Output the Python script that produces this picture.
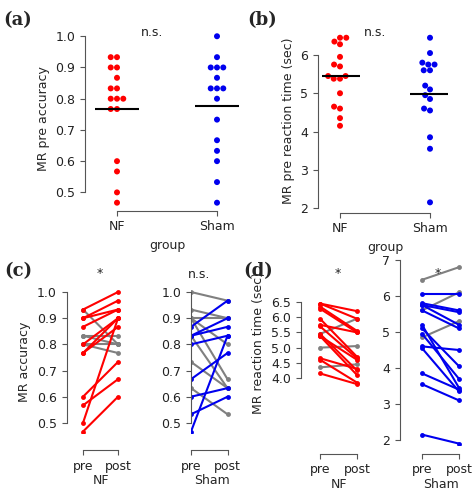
import numpy as np, pandas as pd, seaborn as sns, matplotlib
matplotlib.use("Agg")
import matplotlib.pyplot as plt

nf_acc_pre = [0.933,0.933,0.9,0.9,0.867,0.833,0.833,0.8,0.8,0.8,0.767,0.767,0.6,0.567,0.5,0.467]
nf_acc_post = [0.8,1.0,0.967,0.933,0.933,0.833,0.8,0.767,0.9,0.8,0.9,0.867,0.733,0.667,0.9,0.6]
sh_acc_pre = [1.0,0.933,0.9,0.9,0.9,0.867,0.833,0.833,0.833,0.8,0.733,0.667,0.633,0.6,0.533,0.467]
sh_acc_post = [0.967,0.9,0.9,0.8,0.667,0.967,0.9,0.867,0.633,0.833,0.633,0.767,0.533,0.633,0.6,0.833]
nf_rt_pre = [6.45,6.45,6.35,6.28,5.95,5.75,5.7,5.45,5.45,5.38,5.38,5.0,4.65,4.6,4.35,4.15]
nf_rt_post = [6.2,5.95,5.55,5.5,4.7,5.5,4.65,4.25,5.95,4.6,4.1,5.05,4.3,3.85,4.45,3.8]
sh_rt_pre = [6.45,6.05,5.8,5.75,5.75,5.6,5.6,5.2,5.1,4.95,4.85,4.6,4.55,3.85,3.55,2.15]
sh_rt_post = [6.8,6.05,5.6,5.55,5.2,6.1,5.1,3.45,4.05,3.7,5.3,4.5,3.35,3.4,3.1,1.9]
groups = ["NF", "Sham"]
times = ["pre", "post"]

sns.set_style("ticks")
plt.rcParams['font.family'] = ['DejaVu Sans']
plt.rcParams['font.size'] = 9
plt.rcParams['axes.labelsize'] = 9
plt.rcParams['xtick.labelsize'] = 9
plt.rcParams['ytick.labelsize'] = 9
for k in ['axes.edgecolor', 'xtick.color', 'ytick.color']:
    plt.rcParams[k] = '#555555'
plt.rcParams['xtick.labelcolor'] = '#222222'
plt.rcParams['ytick.labelcolor'] = '#222222'
W, H = 474, 493
fig = plt.figure(figsize=(4.74, 4.93), dpi=100)
pal = {"NF": "#ff0000", "Sham": "#0000ee"}

def rect(l, t, w, h):
    return [l / W, 1 - (t + h) / H, w / W, h / H]

def strip(r, pre_nf, pre_sh, ylabel, ylim, yticks, xlim, off, fmt):
    ax = fig.add_axes(r)
    df = pd.DataFrame({"group": ["NF"]*len(pre_nf) + ["Sham"]*len(pre_sh), "v": pre_nf + pre_sh})
    sns.swarmplot(data=df, x="group", y="v", hue="group", palette=pal, size=4.3, ax=ax, legend=False, order=groups)
    for i, g in enumerate(groups):
        m = df[df.group == g].v.mean()
        ax.hlines(m, i - 0.22, i + 0.22, color="black", lw=1.5, zorder=5)
    ax.set_ylim(*ylim); ax.set_yticks(yticks)
    ax.set_yticklabels([fmt % t for t in yticks])
    ax.set_ylabel(ylabel); ax.set_xlabel("group")
    ax.set_xlim(*xlim)
    sns.despine(ax=ax, offset={"left": off, "bottom": 2}, trim=True)
    return ax

strip(rect(92, 30, 150, 178), nf_acc_pre, sh_acc_pre, "MR pre accuracy", (0.45, 1.02),
      [0.5, 0.6, 0.7, 0.8, 0.9, 1.0], (-0.25, 1.25), 5, "%.1f")
strip(rect(322, 32, 126, 178), nf_rt_pre, sh_rt_pre, "MR pre reaction time (sec)", (1.95, 6.6),
      [2, 3, 4, 5, 6], (-0.2, 1.2), 3, "%d")

def pairs(r, pre, post, col, up_good, group, ylim, yticks, ylabel, fmt, xlim, offl, offb):
    ax = fig.add_axes(r)
    rows = []
    for i, (p, q) in enumerate(zip(pre, post)):
        good = (q > p) if up_good else (q <= p)
        d = "c" if good else "g"
        rows += [{"id": i, "t": "pre", "v": p, "d": d}, {"id": i, "t": "post", "v": q, "d": d}]
    df = pd.DataFrame(rows)
    sns.lineplot(data=df, x="t", y="v", units="id", estimator=None, hue="d",
                 palette={"c": col, "g": "#808080"}, hue_order=["g", "c"], marker="o",
                 markersize=3.5, markeredgewidth=0, lw=1.5, ax=ax, legend=False, sort=False)
    ax.set_xlim(*xlim)
    ax.set_ylim(*ylim); ax.set_yticks(yticks)
    ax.set_yticklabels([fmt % t for t in yticks])
    ax.set_xticks([0, 1]); ax.set_xticklabels(times)
    ax.set_xlabel(group, labelpad=1); ax.set_ylabel(ylabel)
    sns.despine(ax=ax, offset={"left": offl, "bottom": offb}, trim=True)
    return ax

acc_t = [0.5, 0.6, 0.7, 0.8, 0.9, 1.0]
pairs(rect(77.75, 289.4, 45.5, 144), nf_acc_pre, nf_acc_post, "#ff0000", True, "NF", (0.46, 1.01),
      acc_t, "MR accuracy", "%.1f", (-0.15, 1.15), 8, 12)
pairs(rect(191, 289.4, 42, 144), sh_acc_pre, sh_acc_post, "#0000ee", True, "Sham", (0.46, 1.01),
      acc_t, "", "%.1f", (0.0, 1.15), 0, 12)
pairs(rect(314.5, 300.5, 48, 85.1), nf_rt_pre, nf_rt_post, "#ff0000", False, "NF", (3.75, 6.55),
      [4.0, 4.5, 5.0, 5.5, 6.0, 6.5], "MR reaction time (sec)", "%.1f", (-0.15, 1.15), 10, 49)
pairs(rect(416.5, 260, 48, 185.4), sh_rt_pre, sh_rt_post, "#0000ee", False, "Sham", (1.85, 7.0),
      [2, 3, 4, 5, 6, 7], "", "%d", (-0.15, 1.15), 12, 6)

def px(x, y, s, **kw):
    fig.text(x / W, 1 - y / H, s, ha="center", va="center", **kw)

for x, y, s in [(18, 20, "(a)"), (262, 20, "(b)"), (18, 271, "(c)"), (258, 271, "(d)")]:
    px(x, y, s, family="DejaVu Serif", fontweight="bold", fontsize=13)
for x, y, s in [(152, 32, "n.s."), (375, 32, "n.s."), (100, 273, "*"), (199, 275, "n.s."),
                (338, 274, "*"), (438, 274, "*")]:
    px(x, y, s, fontsize=9, color="#222222")

fig.savefig("out.png", dpi=100)
